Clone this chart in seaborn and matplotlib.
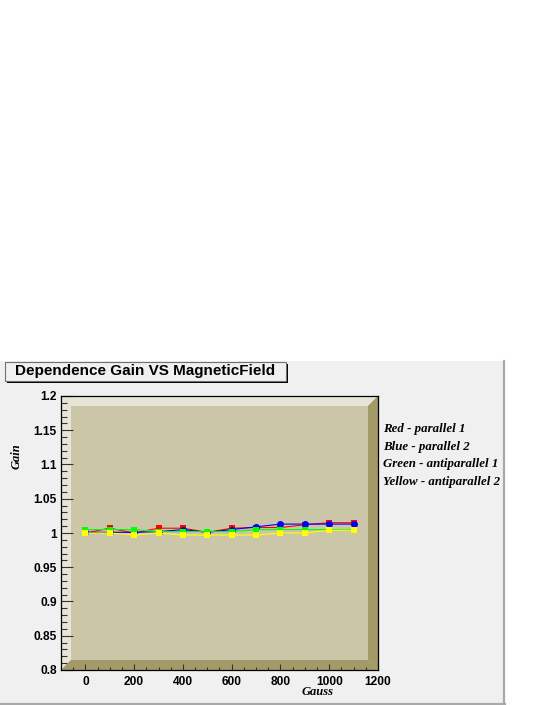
from __future__ import annotations

import matplotlib

matplotlib.use("Agg")

import matplotlib.pyplot as plt
import pandas as pd
import seaborn as sns
from matplotlib.patches import Polygon, Rectangle
from matplotlib.ticker import FuncFormatter, MultipleLocator

# values
gauss = [0, 100, 200, 300, 400, 500, 600, 700, 800, 900, 1000, 1100]
red_parallel_1 = [1.000, 1.007, 1.000, 1.007, 1.007, 1.001, 1.007, 1.008, 1.008, 1.012, 1.015, 1.015]
blue_parallel_2 = [1.001, 1.001, 1.001, 1.002, 1.005, 1.001, 1.005, 1.009, 1.013, 1.013, 1.013, 1.013]
green_antiparallel_1 = [1.005, 1.005, 1.005, 1.002, 1.002, 1.002, 1.002, 1.005, 1.005, 1.005, 1.005, 1.005]
yellow_antiparallel_2 = [1.000, 1.000, 0.997, 1.000, 0.997, 0.997, 0.997, 0.997, 1.000, 1.000, 1.004, 1.004]

series_names = ["red", "blue", "green", "yellow"]
series_colors = ["#ff0000", "#0000ff", "#00ff00", "#ffff00"]
series_markers = ["s", "o", "s", "s"]
legend_lines = [
    "Red - parallel 1",
    "Blue - parallel 2",
    "Green - antiparallel 1",
    "Yellow - antiparallel 2",
]

title = "Dependence Gain VS MagneticField"
x_label = "Gauss"
y_label = "Gain"

W, H = 545, 705
SANS = "Liberation Sans"
SERIF = "Liberation Serif"


def fx(px: float) -> float:
    return px / W


def fy(py: float) -> float:
    return 1 - py / H


def build_frame() -> pd.DataFrame:
    values = [red_parallel_1, blue_parallel_2, green_antiparallel_1, yellow_antiparallel_2]
    frames = [
        pd.DataFrame({"gauss": gauss, "gain": v, "series": name})
        for name, v in zip(series_names, values)
    ]
    return pd.concat(frames, ignore_index=True)


def draw_canvas(fig: plt.Figure) -> None:
    # grey ROOT canvas on the lower half, kept below the axes
    fig.patches.append(
        Rectangle((fx(0), fy(704)), fx(505), (704 - 361) / H,
                  transform=fig.transFigure, facecolor="#f0f0f0",
                  edgecolor="none", zorder=-3)
    )
    fig.lines.append(plt.Line2D([fx(504), fx(504)], [fy(704), fy(361)],
                                transform=fig.transFigure, color="#a8a8a8",
                                lw=1.6, zorder=-2))
    fig.lines.append(plt.Line2D([fx(0), fx(505)], [fy(703.5), fy(703.5)],
                                transform=fig.transFigure, color="#a8a8a8",
                                lw=1.6, zorder=-2))

    # title box with shadow
    fig.patches.append(
        Rectangle((fx(7), fy(383)), fx(281), 19 / H, transform=fig.transFigure,
                  facecolor="#000000", edgecolor="none", zorder=-2)
    )
    fig.patches.append(
        Rectangle((fx(5), fy(381)), fx(281), 19 / H, transform=fig.transFigure,
                  facecolor="#f0f0f0", edgecolor="#707070", lw=0.8, zorder=-1)
    )
    fig.text(fx(145.5), fy(371.5), title, ha="center", va="center",
             family=SANS, weight="bold", size=11, zorder=3)


def draw_bevel(ax: plt.Axes) -> None:
    bx, by = 10 / 317, 10 / 274
    light, dark, inner = "#e8e5d8", "#a39a68", "#ccc6a9"
    shapes = [
        ([(0, 0), (1, 0), (1, 1), (0, 1)], inner),
        ([(0, 1), (1, 1), (1 - bx, 1 - by), (bx, 1 - by)], light),
        ([(0, 0), (bx, by), (bx, 1 - by), (0, 1)], light),
        ([(1, 0), (1, 1), (1 - bx, 1 - by), (1 - bx, by)], dark),
        ([(0, 0), (1, 0), (1 - bx, by), (bx, by)], dark),
    ]
    for pts, color in shapes:
        ax.add_patch(Polygon(pts, closed=True, transform=ax.transAxes,
                             facecolor=color, edgecolor="none", zorder=0))


def main() -> None:
    data = build_frame()

    fig = plt.figure(figsize=(W / 100, H / 100), dpi=100)
    fig.patch.set_facecolor("white")
    draw_canvas(fig)

    ax = fig.add_axes([fx(61), fy(670), 317 / W, 274 / H])
    ax.set_zorder(1)
    ax.set_facecolor("none")
    draw_bevel(ax)

    for name, color, marker in zip(series_names, series_colors, series_markers):
        sns.lineplot(
            data=data[data["series"] == name],
            x="gauss", y="gain", ax=ax, color=color, marker=marker,
            markersize=5, markeredgewidth=0, linewidth=0.8, sort=False,
            legend=False, zorder=3,
        )

    ax.set_xlim(-100, 1200)
    ax.set_ylim(0.8, 1.2)
    ax.set_xlabel("")
    ax.set_ylabel("")

    fmt = FuncFormatter(lambda v, _: f"{v:g}")
    ax.xaxis.set_major_locator(MultipleLocator(200))
    ax.xaxis.set_minor_locator(MultipleLocator(50))
    ax.yaxis.set_major_locator(MultipleLocator(0.05))
    ax.yaxis.set_minor_locator(MultipleLocator(0.01))
    ax.xaxis.set_major_formatter(fmt)
    ax.yaxis.set_major_formatter(fmt)

    ax.tick_params(axis="y", which="major", direction="in", length=8.6, width=0.8,
                   pad=3, color="#333333")
    ax.tick_params(axis="y", which="minor", direction="in", length=4.3, width=0.8,
                   color="#333333")
    ax.tick_params(axis="x", which="major", direction="in", length=4.3, width=0.8,
                   pad=4, color="#333333")
    ax.tick_params(axis="x", which="minor", direction="in", length=2.2, width=0.8,
                   color="#333333")
    for label in ax.get_xticklabels() + ax.get_yticklabels():
        label.set_fontfamily(SANS)
        label.set_fontweight("bold")
        label.set_fontsize(8.6)

    for spine in ax.spines.values():
        spine.set_color("black")
        spine.set_linewidth(0.9)

    fig.text(fx(16.5), fy(456), y_label, rotation=90, ha="center", va="center",
             family=SERIF, weight="bold", style="italic", size=9)
    fig.text(fx(334), fy(692), x_label, ha="right", va="center",
             family=SERIF, weight="bold", style="italic", size=9)

    for text, py in zip(legend_lines, [429, 447, 464.5, 481.5]):
        fig.text(fx(383), fy(py), text, ha="left", va="center",
                 family=SERIF, weight="bold", style="italic", size=9.3)

    fig.savefig("out.png", dpi=100)
    plt.close(fig)


if __name__ == "__main__":
    main()
